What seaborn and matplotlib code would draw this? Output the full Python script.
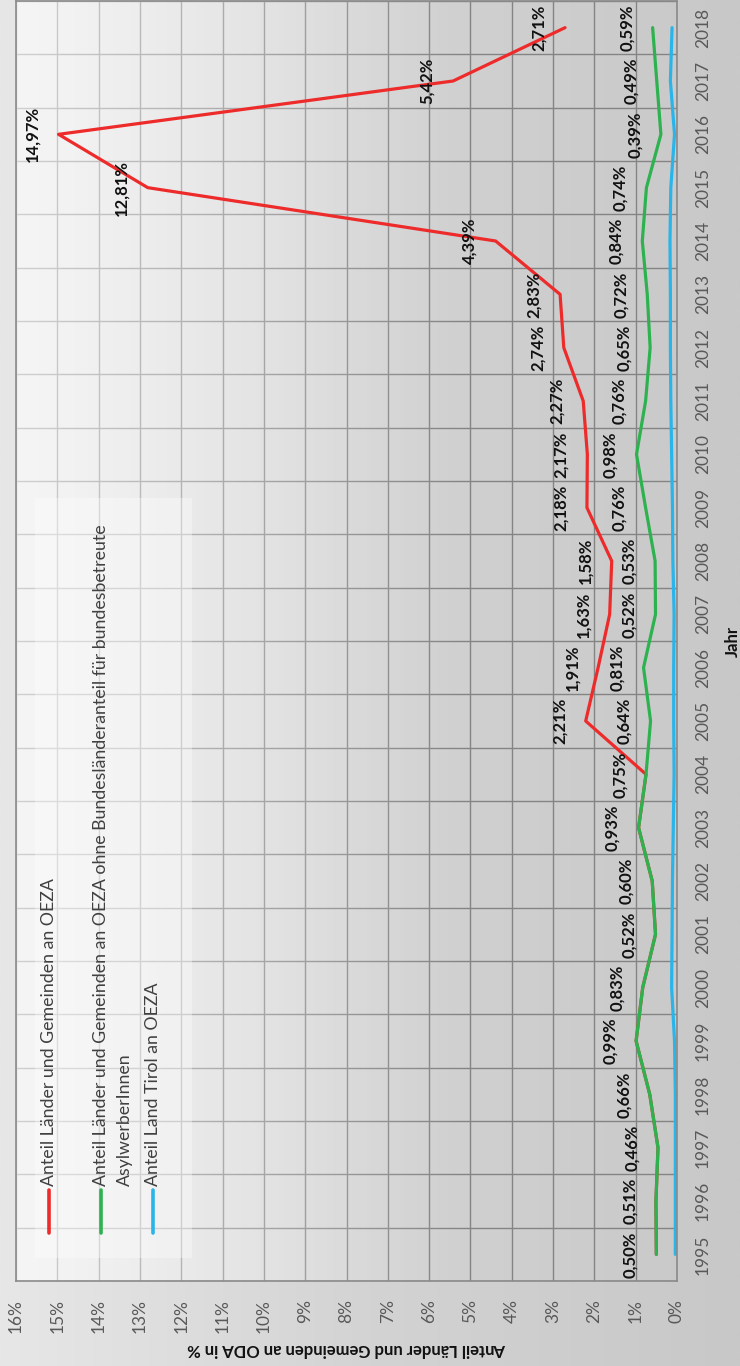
import numpy as np
import pandas as pd
import matplotlib
matplotlib.use("Agg")
import matplotlib.pyplot as plt
import seaborn as sns
from matplotlib.colors import LinearSegmentedColormap
from matplotlib.patches import Rectangle

# Werte in %
years = list(range(1995, 2019))
anteil_oeza = [0.50, 0.51, 0.46, 0.66, 0.99, 0.83, 0.52, 0.60, 0.93, 0.75,
               2.21, 1.91, 1.63, 1.58, 2.18, 2.17, 2.27, 2.74, 2.83, 4.39,
               12.81, 14.97, 5.42, 2.71]
anteil_ohne_asyl = [0.50, 0.51, 0.46, 0.66, 0.99, 0.83, 0.52, 0.60, 0.93, 0.75,
                    0.64, 0.81, 0.52, 0.53, 0.76, 0.98, 0.76, 0.65, 0.72, 0.84,
                    0.74, 0.39, 0.49, 0.59]
anteil_tirol = [0.04, 0.04, 0.04, 0.04, 0.06, 0.13, 0.12, 0.11, 0.09, 0.07,
                0.08, 0.08, 0.07, 0.10, 0.11, 0.13, 0.15, 0.16, 0.16, 0.17,
                0.15, 0.06, 0.16, 0.12]
red_labels_from = 2005

series_names = ["Anteil Länder und Gemeinden an OEZA",
                "Anteil Länder und Gemeinden an OEZA ohne Bundesländeranteil für bundesbetreute AsylwerberInnen",
                "Anteil Land Tirol an OEZA"]
colors = ["#ee2b2b", "#2db24f", "#29b4ea"]
pct_ticks = list(range(0, 17))

df = pd.DataFrame({
    "Jahr": years * 3,
    "Anteil": anteil_oeza + anteil_ohne_asyl + anteil_tirol,
    "Reihe": [series_names[0]] * 24 + [series_names[1]] * 24 + [series_names[2]] * 24,
})

sns.set_theme(style="white")
plt.rcParams["font.family"] = ["Lato", "DejaVu Sans"]

W, H = 740, 1366
fig = plt.figure(figsize=(W / 100, H / 100), dpi=100)

# grey background gradient
bg = fig.add_axes([0, 0, 1, 1], zorder=-10)
bg.axis("off")
bg_cmap = LinearSegmentedColormap.from_list("bg", ["#e7e7e7", "#d3d3d3", "#c8c8c8"])
bg.imshow(np.linspace(0, 1, 256)[None, :], cmap=bg_cmap, aspect="auto",
          extent=[0, 1, 0, 1])

L, R, T, B = 16, 677, 1, 1281
ax = fig.add_axes([L / W, (H - B) / H, (R - L) / W, (B - T) / H])
ax.set_facecolor("none")

sns.lineplot(data=df, x="Anteil", y="Jahr", hue="Reihe", hue_order=series_names,
             palette=colors, orient="y", sort=True, estimator=None,
             legend=False, linewidth=2.3, ax=ax)

ax.set_xlim(16, 0)
ax.set_ylim(years[0] - 0.5, years[-1] + 0.5)

ax.set_xticks(pct_ticks)
ax.set_xticklabels([f"{p}%" for p in pct_ticks], rotation=90, fontsize=12.5,
                   color="#595959")
ax.set_yticks(years)
ax.set_yticks(np.arange(years[0] - 0.5, years[-1] + 1, 1), minor=True)
ax.yaxis.tick_right()
ax.yaxis.set_label_position("right")
ax.set_yticklabels([str(y) for y in years], rotation=90, va="center",
                   fontsize=12.5, color="#595959")
ax.tick_params(axis="x", length=0, pad=13)
ax.tick_params(axis="y", which="both", length=0, pad=13)

ax.set_axisbelow(True)
ax.grid(which="major", axis="x", color="#848484", linewidth=1.0)
ax.grid(which="minor", axis="y", color="#848484", linewidth=1.0)
ax.grid(which="major", axis="y", visible=False)
for s in ax.spines.values():
    s.set_color("#8a8a8a")
    s.set_linewidth(1.2)

ax.set_xlabel("Anteil Länder und Gemeinden an ODA in %", rotation=180,
              fontsize=12, fontweight="bold", color="#111111", labelpad=6)
ax.set_ylabel("Jahr", rotation=90, fontsize=12, fontweight="bold",
              color="#111111", labelpad=10)

# light glare over the left part of the plot
xs = np.linspace(0, 1, 300)
alpha = np.clip(0.62 * (1 - xs / 0.68), 0, 1)
glare = np.ones((1, 300, 4))
glare[0, :, 3] = alpha
ax.imshow(glare, extent=[0, 1, 0, 1], transform=ax.transAxes, aspect="auto",
          zorder=1)
ax.set_xlim(16, 0)
ax.set_ylim(years[0] - 0.5, years[-1] + 0.5)

# data labels
for yr, v in zip(years, anteil_ohne_asyl):
    ax.annotate(f"{v:.2f}%".replace(".", ","), xy=(v, yr), xytext=(-18.7, 0),
                textcoords="offset points", rotation=90, ha="center",
                va="center", fontsize=12, fontweight="bold", color="#111111",
                zorder=5)
for yr, v in zip(years, anteil_oeza):
    if yr < red_labels_from:
        continue
    ax.annotate(f"{v:.2f}%".replace(".", ","), xy=(v, yr), xytext=(-18.7, 0),
                textcoords="offset points", rotation=90, ha="center",
                va="center", fontsize=12, fontweight="bold", color="#111111",
                zorder=5)

# legend, drawn rotated like the rest of the chart
def ax_x(px):
    return (px - L) / (R - L)

def ax_y(py):
    return (B - py) / (B - T)

ax.add_patch(Rectangle((ax_x(35), ax_y(1258)), ax_x(192) - ax_x(35),
                       ax_y(498) - ax_y(1258), transform=ax.transAxes,
                       facecolor="white", edgecolor="none", alpha=0.35,
                       zorder=1.5))
legend_rows = [(49, series_names[0], colors[0]),
               (101, "Anteil Länder und Gemeinden an OEZA ohne Bundesländeranteil für bundesbetreute", colors[1]),
               (153, series_names[2], colors[2])]
for px, txt, c in legend_rows:
    ax.plot([ax_x(px), ax_x(px)], [ax_y(1233), ax_y(1190)], color=c,
            linewidth=2.6, solid_capstyle="round", transform=ax.transAxes,
            zorder=4)
    ax.text(ax_x(px), ax_y(1186), txt, transform=ax.transAxes, rotation=90,
            rotation_mode="anchor", ha="left", va="center", fontsize=12.8,
            color="#404040", zorder=4)
ax.text(ax_x(125), ax_y(1186), "AsylwerberInnen", transform=ax.transAxes,
        rotation=90, rotation_mode="anchor", ha="left", va="center",
        fontsize=12.8, color="#404040", zorder=4)

fig.savefig("out.png", dpi=100)
